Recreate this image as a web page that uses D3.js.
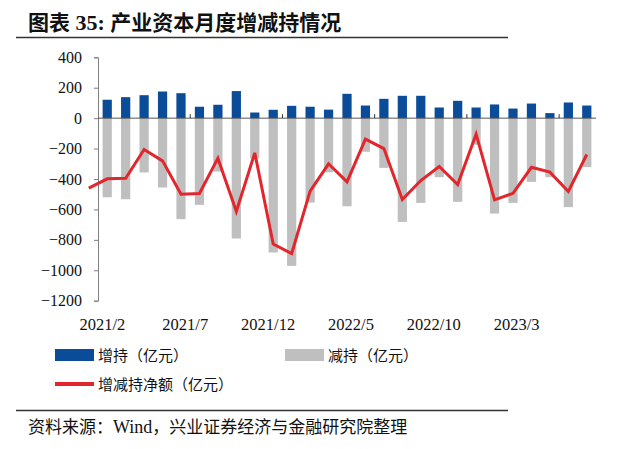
<!DOCTYPE html>
<html>
<head>
<meta charset="utf-8">
<style>
  body { margin: 0; background: #fff; }
  svg { display: block; }
</style>
</head>
<body>
<div id="chart"></div>
<script src="https://d3js.org/d3.v7.min.js" charset="utf-8"></script>
<script>

// months of the net line (starts one month before the bars)
var months = ['2021/1','2021/2','2021/3','2021/4','2021/5','2021/6','2021/7','2021/8','2021/9','2021/10','2021/11','2021/12',
              '2022/1','2022/2','2022/3','2022/4','2022/5','2022/6','2022/7','2022/8','2022/9','2022/10','2022/11','2022/12',
              '2023/1','2023/2','2023/3','2023/4'];
var barMonths = months.slice(1);

// 增持 (亿元)
var increase = [121,138,151,175,164,75,88,178,37,55,81,75,56,160,83,127,147,147,70,114,70,90,63,96,33,103,83];
// 减持 (亿元), drawn below zero
var decrease = [520,533,357,456,664,570,351,791,265,883,971,555,356,579,221,327,682,557,388,550,175,627,557,419,388,585,322];
// 增减持净额 (亿元)
var net = [-460,-399,-395,-206,-281,-500,-495,-263,-613,-228,-828,-890,-480,-300,-419,-138,-200,-535,-410,-318,-436,-105,-537,-494,-323,-355,-482,-239];

var xLabels = ['2021/2','2021/7','2021/12','2022/5','2022/10','2023/3'];
var yTicks = [400,200,0,-200,-400,-600,-800,-1000,-1200];

var width = 640, height = 449;
var plotLeft = 98, plotRight = 596, plotTop = 57.3, plotBottom = 300.7;
var step = (plotRight - plotLeft) / barMonths.length;

var svg = d3.select('#chart').append('svg')
  .attr('width', width)
  .attr('height', height);

var serif = '"Liberation Serif", "Times New Roman", serif';
var cjk = '"Noto Sans CJK SC", sans-serif';

// title + rule
var title = svg.append('text')
  .attr('x', 28)
  .attr('y', 30)
  .attr('font-size', '21px')
  .attr('font-weight', 'bold')
  .attr('fill', '#111');
title.append('tspan').attr('font-family', cjk).text('图表');
title.append('tspan').attr('font-family', serif).attr('font-size', '22px').text(' 35: ');
title.append('tspan').attr('font-family', cjk).text('产业资本月度增减持情况');

svg.append('line')
  .attr('x1', 16).attr('x2', 508)
  .attr('y1', 37.5).attr('y2', 37.5)
  .attr('stroke', '#333').attr('stroke-width', 1.3);

// scales: the band scale holds the extra leading month left of the axis
var x = d3.scaleBand()
  .domain(months)
  .range([plotLeft - step, plotRight])
  .paddingInner(0.5)
  .paddingOuter(0.25);

var y = d3.scaleLinear()
  .domain([-1200, 400])
  .range([plotBottom, plotTop]);

var xLab = d3.scalePoint()
  .domain(xLabels)
  .range([102.4, 516.7]);

// bars
svg.append('g').selectAll('rect.dec')
  .data(barMonths)
  .enter().append('rect')
    .attr('x', function(d){ return x(d); })
    .attr('y', y(0))
    .attr('width', x.bandwidth())
    .attr('height', function(d, i){ return y(-decrease[i]) - y(0); })
    .attr('fill', '#bfbfbf');

svg.append('g').selectAll('rect.inc')
  .data(barMonths)
  .enter().append('rect')
    .attr('x', function(d){ return x(d); })
    .attr('y', function(d, i){ return y(increase[i]); })
    .attr('width', x.bandwidth())
    .attr('height', function(d, i){ return y(0) - y(increase[i]); })
    .attr('fill', '#0a4c97');

// y axis
var yAxis = svg.append('g')
  .attr('transform', 'translate(' + plotLeft + ',0)')
  .call(d3.axisLeft(y).tickValues(yTicks).tickSize(4).tickPadding(12).tickFormat(d3.format('d')));
yAxis.select('.domain').attr('stroke', '#7f7f7f');
yAxis.selectAll('.tick line').attr('stroke', '#7f7f7f');
yAxis.selectAll('text')
  .attr('font-family', serif)
  .attr('font-size', '16px')
  .attr('fill', '#111');

// zero line with small ticks every 5 months
svg.append('line')
  .attr('x1', plotLeft).attr('x2', plotRight)
  .attr('y1', y(0)).attr('y2', y(0))
  .attr('stroke', '#555').attr('stroke-width', 1);

svg.append('g').selectAll('line')
  .data(barMonths.filter(function(d, i){ return i > 0 && i % 5 == 0; }))
  .enter().append('line')
    .attr('x1', function(d){ return x(d) - (x.step() - x.bandwidth()) / 2; })
    .attr('x2', function(d){ return x(d) - (x.step() - x.bandwidth()) / 2; })
    .attr('y1', y(0) - 4)
    .attr('y2', y(0))
    .attr('stroke', '#333');

// x labels
svg.append('g').selectAll('text')
  .data(xLabels)
  .enter().append('text')
    .attr('x', function(d){ return xLab(d); })
    .attr('y', 330)
    .attr('text-anchor', 'middle')
    .attr('font-family', serif)
    .attr('font-size', '16.5px')
    .attr('fill', '#111')
    .text(function(d){ return d; });

// net line
var line = d3.line()
  .x(function(d, i){ return x(months[i]) + x.bandwidth() / 2; })
  .y(function(d){ return y(d); });

svg.append('path')
  .datum(net)
  .attr('d', line)
  .attr('fill', 'none')
  .attr('stroke', '#e2262b')
  .attr('stroke-width', 3)
  .attr('stroke-linejoin', 'miter');

// legend
var legend = [
  {name: '增持（亿元）', color: '#0a4c97', type: 'rect', x: 55, y: 355},
  {name: '减持（亿元）', color: '#bfbfbf', type: 'rect', x: 285, y: 355},
  {name: '增减持净额（亿元）', color: '#e2262b', type: 'line', x: 55, y: 384}
];

var keys = svg.append('g').selectAll('g')
  .data(legend)
  .enter().append('g')
    .attr('transform', function(d){ return 'translate(' + d.x + ',' + d.y + ')'; });

keys.append('rect')
  .attr('x', 0)
  .attr('y', function(d){ return d.type == 'rect' ? -6 : -2; })
  .attr('width', 39)
  .attr('height', function(d){ return d.type == 'rect' ? 12 : 4; })
  .attr('fill', function(d){ return d.color; });

keys.append('text')
  .attr('x', 43)
  .attr('y', 5.5)
  .attr('font-family', cjk)
  .attr('font-size', '15px')
  .attr('fill', '#111')
  .text(function(d){ return d.name; });

// source
svg.append('line')
  .attr('x1', 16).attr('x2', 508)
  .attr('y1', 410.5).attr('y2', 410.5)
  .attr('stroke', '#333').attr('stroke-width', 1.3);

var src = svg.append('text')
  .attr('x', 28)
  .attr('y', 433)
  .attr('font-size', '17px')
  .attr('fill', '#111');
src.append('tspan').attr('font-family', cjk).text('资料来源：');
src.append('tspan').attr('font-family', serif).attr('font-size', '18px').text('Wind');
src.append('tspan').attr('font-family', cjk).text('，兴业证券经济与金融研究院整理');

</script>
</body>
</html>
